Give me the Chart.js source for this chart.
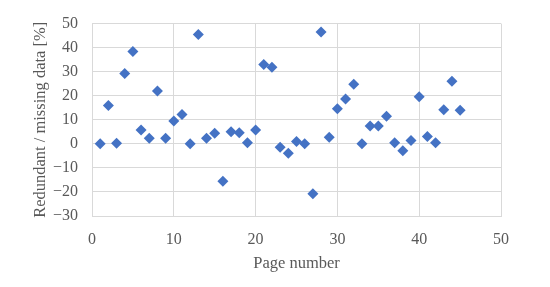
<!DOCTYPE html>
<html>
<head>
<meta charset="utf-8">
<script src="https://cdn.jsdelivr.net/npm/chart.js@4/dist/chart.umd.min.js"></script>
<style>
  html, body { margin: 0; padding: 0; background: #fff; }
  #wrap { width: 550px; height: 287px; }
</style>
</head>
<body>
<div id="wrap"><canvas id="c"></canvas></div>
<script>
  // Datos: página → % de datos redundantes / faltantes.
  const PAGES = [1, 2, 3, 4, 5, 6, 7, 8, 9, 10, 11, 12, 13, 14, 15, 16, 17, 18, 19, 20, 21, 22, 23,
    24, 25, 26, 27, 28, 29, 30, 31, 32, 33, 34, 35, 36, 37, 38, 39, 40, 41, 42, 43, 44, 45];
  const VALUES = [0, 15.9, 0.3, 29.2, 38.4, 5.8, 2.3, 22, 2.3, 9.5, 12.2, 0, 45.5, 2.3, 4.4, -15.6, 5, 4.6,
    0.5, 5.8, 33, 31.8, -1.4, -3.9, 1, 0, -20.7, 46.5, 2.7, 14.6, 18.6, 24.8, 0, 7.4, 7.4, 11.5,
    0.5, -2.9, 1.4, 19.6, 3.1, 0.5, 14.2, 26, 14];
  const X_TITLE = "Page number";
  const Y_TITLE = "Redundant / missing data [%]";

  const BLUE = "#4472c4";
  const GRID = "#d9d9d9";
  const TEXT = "#595959";
  const FONT = "'Liberation Serif', 'DejaVu Serif', serif";

  const points = PAGES.map((p, i) => ({ x: p, y: VALUES[i] }));
  // Signo menos tipográfico, como en el original.
  const minus = (v) => String(v).replace("-", "\u2212");

  new Chart(document.getElementById("c"), {
    type: "scatter",
    data: { datasets: [{ data: points, pointStyle: "rectRot", pointRadius: 5.5,
      backgroundColor: BLUE, borderColor: BLUE, borderWidth: 0 }] },
    options: {
      responsive: true, maintainAspectRatio: false, animation: false,
      layout: { padding: { top: 22, right: 49, bottom: 0, left: 0 } },
      plugins: { legend: { display: false }, tooltip: { enabled: false } },
      scales: {
        x: {
          type: "linear", min: 0, max: 50,
          afterFit: (s) => { s.height = 71; },
          grid: { color: GRID, lineWidth: 1, drawTicks: false },
          border: { color: GRID },
          ticks: { stepSize: 10, color: TEXT, padding: 14, font: { family: FONT, size: 16 } },
          title: { display: true, text: X_TITLE, color: TEXT, padding: { top: 0, bottom: 13 },
            font: { family: FONT, size: 16.5 } },
        },
        y: {
          type: "linear", min: -30, max: 50,
          afterFit: (s) => { s.width = 92; },
          grid: { color: GRID, lineWidth: 1, drawTicks: false },
          border: { color: GRID },
          ticks: { stepSize: 10, color: TEXT, padding: 14, font: { family: FONT, size: 16 },
            callback: (v) => minus(v) },
          title: { display: true, text: Y_TITLE, color: TEXT, padding: { top: 31, bottom: 0 },
            font: { family: FONT, size: 16.5 } },
        },
      },
    },
  });
</script>
</body>
</html>
